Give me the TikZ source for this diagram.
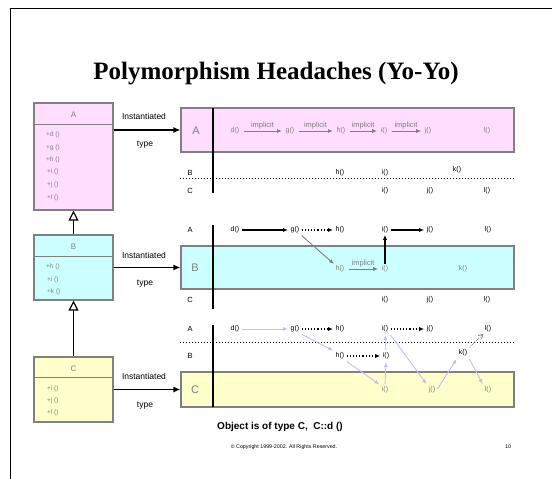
\documentclass[tikz,border=0pt]{standalone}
\usepackage{fontspec}
\setmainfont{Liberation Serif}
\setsansfont{Liberation Sans}
\usetikzlibrary{arrows.meta}
\definecolor{pinkf}{RGB}{255,221,255}
\definecolor{cyanf}{RGB}{204,255,255}
\definecolor{yellf}{RGB}{255,255,204}
\definecolor{boxline}{RGB}{128,128,128}
\definecolor{txtgray}{RGB}{128,128,128}
\definecolor{lav}{RGB}{190,190,255}
\begin{document}
\begin{tikzpicture}[x=1pt,y=-1pt,
  every node/.style={font=\sffamily},
  clsbox/.style={draw=boxline,line width=1.2pt,rectangle,inner sep=0pt,minimum width=79pt},
  panelbox/.style={draw=boxline,line width=1.2pt,rectangle,inner sep=0pt,minimum width=333pt},
  meth/.style={text=txtgray,font=\sffamily\fontsize{6.5}{7}\selectfont,anchor=west,inner sep=0pt},
  hdr/.style={text=txtgray,font=\sffamily\fontsize{8}{9}\selectfont,inner sep=0pt},
  lbl/.style={font=\sffamily\fontsize{8.5}{9}\selectfont,inner sep=0pt},
  rowlbl/.style={font=\sffamily\fontsize{7.5}{8}\selectfont,inner sep=0pt},
  inlbl/.style={text=txtgray,font=\sffamily\fontsize{11}{12}\selectfont,inner sep=0pt},
  itm/.style={font=\sffamily\fontsize{7}{8}\selectfont,inner sep=1.5pt},
  gitm/.style={itm,text=txtgray},
  inst/.style={line width=1.3pt,-{Latex[length=7pt,width=6pt]}},
  inherit/.style={line width=1.2pt,-{Triangle[open,length=10pt,width=10pt,fill=white]}},
  sol/.style={line width=1.1pt,-{Latex[length=5pt,width=4pt]},shorten >=1pt,shorten <=1pt},
  dots/.style={line width=1.1pt,dotted,-{Latex[length=5pt,width=4pt]},shorten >=1pt,shorten <=1pt},
  impl/.style={draw=txtgray,line width=0.9pt,-{Latex[length=5pt,width=4pt]},shorten >=2pt,shorten <=3pt},
  implbl/.style={text=txtgray,font=\sffamily\fontsize{7.5}{8}\selectfont,inner sep=1pt,above},
  lavarr/.style={draw=lav,line width=0.9pt,-{Latex[length=5pt,width=4pt]},shorten >=1pt,shorten <=1pt},
  sep/.style={line width=1pt,dotted},
  vline/.style={line width=1.2pt}
]
\useasboundingbox (0,0) rectangle (552,479);
% frame
\coordinate (fbl) at (10.5,479);
\coordinate (ftl) at (10.5,8.5);
\coordinate (ftr) at (552,8.5);
\draw[line width=1.5pt] (fbl) -- (ftl) -- (ftr);
% title
\node[font=\rmfamily\bfseries\fontsize{25}{28}\selectfont,inner sep=0pt] (title) at (276,74) {Polymorphism Headaches (Yo-Yo)};

% class boxes
\node[clsbox,fill=pinkf,minimum height=107pt] (Abox) at (73.5,156.5) {};
\node[clsbox,fill=cyanf,minimum height=65pt] (Bbox) at (73.5,267.5) {};
\node[clsbox,fill=yellf,minimum height=65pt] (Cbox) at (73.5,389.5) {};
\draw[draw=boxline,line width=1.2pt] ([yshift=-22pt]Abox.north west) -- ([yshift=-22pt]Abox.north east);
\draw[draw=boxline,line width=1.2pt] ([yshift=-22pt]Bbox.north west) -- ([yshift=-22pt]Bbox.north east);
\draw[draw=boxline,line width=1.2pt] ([yshift=-21pt]Cbox.north west) -- ([yshift=-21pt]Cbox.north east);
\node[hdr] (Ah) at (73.5,115) {A};
\node[hdr] (Bh) at (73.5,247) {B};
\node[hdr] (Ch) at (73.5,369) {C};
\node[meth] (Am1) at (46,135) {+d ()};
\node[meth] (Am2) at (46,148) {+g ()};
\node[meth] (Am3) at (46,160) {+h ()};
\node[meth] (Am4) at (47,172) {+i ()};
\node[meth] (Am5) at (47,185) {+j ()};
\node[meth] (Am6) at (47,198) {+l ()};
\node[meth] (Bm1) at (46,267) {+h ()};
\node[meth] (Bm2) at (47,280) {+i ()};
\node[meth] (Bm3) at (47,292) {+k ()};
\node[meth] (Cm1) at (47,389) {+i ()};
\node[meth] (Cm2) at (47,401) {+j ()};
\node[meth] (Cm3) at (47,413) {+l ()};
\draw[inherit] (Bbox.north) -- (Abox.south);
\draw[inherit] (Cbox.north) -- (Bbox.south);

% panel boxes
\node[panelbox,fill=pinkf,minimum height=44pt] (P1) at (347.5,130) {};
\node[panelbox,fill=cyanf,minimum height=43pt] (P2) at (347.5,267.5) {};
\node[panelbox,fill=yellf,minimum height=35pt] (P3) at (347.5,389.5) {};
\node[inlbl] (P1l) at (196,131) {A};
\node[inlbl] (P2l) at (195,268) {B};
\node[inlbl] (P3l) at (195,390) {C};

% instantiation arrows
\draw[inst] (Abox.east |- P1.west) -- (P1.west);
\draw[inst] (Bbox.east |- P2.west) -- (P2.west);
\draw[inst] (Cbox.east |- P3.west) -- (P3.west);
\node[lbl] (i1) at (144,116) {Instantiated};
\node[lbl] (t1) at (145,145) {type};
\node[lbl] (i2) at (144,255) {Instantiated};
\node[lbl] (t2) at (145,284) {type};
\node[lbl] (i3) at (144,376) {Instantiated};
\node[lbl] (t3) at (145,406) {type};

% vertical lines and separators
\coordinate (v1t) at (213,108); \coordinate (v1b) at (213,193);
\coordinate (v2t) at (213,225); \coordinate (v2b) at (213,309);
\coordinate (v3t) at (213,325); \coordinate (v3b) at (213,407);
\draw[vline] (v1t) -- (v1b);
\draw[vline] (v2t) -- (v2b);
\draw[vline] (v3t) -- (v3b);
\coordinate (s1l) at (180,178); \coordinate (s1r) at (514,178);
\coordinate (s3l) at (180,342); \coordinate (s3r) at (514,342);
\draw[sep] (s1l) -- (s1r);
\draw[sep] (s3l) -- (s3r);

% panel 1
\node[rowlbl] (r1B) at (190,173) {B};
\node[rowlbl] (r1C) at (190,191) {C};
\node[gitm] (p1Ad) at (235,131) {d()};
\node[gitm] (p1Ag) at (290,131) {g()};
\node[gitm] (p1Ah) at (341,131) {h()};
\node[gitm] (p1Ai) at (384,131) {i()};
\node[gitm] (p1Aj) at (428,131) {j()};
\node[gitm] (p1Al) at (487,131) {l()};
\draw[impl] (p1Ad) -- node[implbl] {implicit} (p1Ag);
\draw[impl] (p1Ag) -- node[implbl] {implicit} (p1Ah);
\draw[impl] (p1Ah) -- node[implbl] {implicit} (p1Ai);
\draw[impl] (p1Ai) -- node[implbl] {implicit} (p1Aj);
\node[itm] (p1Bh) at (340,173) {h()};
\node[itm] (p1Bi) at (385,173) {i()};
\node[itm] (p1Bk) at (457,170) {k()};
\node[itm] (p1Ci) at (385,191) {i()};
\node[itm] (p1Cj) at (430,191) {j()};
\node[itm] (p1Cl) at (487,191) {l()};

% panel 2
\node[rowlbl] (r2A) at (190,230) {A};
\node[rowlbl] (r2C) at (190,300) {C};
\node[itm] (p2Ad) at (235,230) {d()};
\node[itm] (p2Ag) at (295,230) {g()};
\node[itm] (p2Ah) at (340,230) {h()};
\node[itm] (p2Ai) at (385,230) {i()};
\node[itm] (p2Aj) at (430,230) {j()};
\node[itm] (p2Al) at (488,230) {l()};
\node[gitm] (p2Bh) at (340,269) {h()};
\node[gitm] (p2Bi) at (385,269) {i()};
\node[gitm] (p2Bk) at (463,269) {k()};
\node[itm] (p2Ci) at (385,300) {i()};
\node[itm] (p2Cj) at (430,300) {j()};
\node[itm] (p2Cl) at (487,300) {l()};
\draw[sol] (p2Ad) -- (p2Ag);
\draw[dots] (p2Ag) -- (p2Ah);
\draw[sol] (p2Ai) -- (p2Aj);
\draw[draw=txtgray,line width=0.9pt,-{Latex[length=5pt,width=4pt]},shorten <=1pt] (p2Ag.south east) -- (p2Bh.north west);
\draw[impl] (p2Bh) -- node[implbl] {implicit} (p2Bi);
\draw[line width=1.6pt,-{Latex[length=5pt,width=4.5pt]}] (p2Bi.north) -- (p2Ai.south);

% panel 3
\node[rowlbl] (r3A) at (190,329) {A};
\node[rowlbl] (r3B) at (190,356) {B};
\node[itm] (p3Ad) at (235,329) {d()};
\node[itm] (p3Ag) at (295,329) {g()};
\node[itm] (p3Ah) at (340,329) {h()};
\node[itm] (p3Ai) at (385,329) {i()};
\node[itm] (p3Aj) at (430,329) {j()};
\node[itm] (p3Al) at (488,329) {l()};
\node[itm] (p3Bh) at (340,356) {h()};
\node[itm] (p3Bi) at (386,356) {i()};
\node[itm] (p3Bk) at (463,353) {k()};
\node[gitm] (p3Ci) at (385,390) {i()};
\node[gitm] (p3Cj) at (432,390) {j()};
\node[gitm] (p3Cl) at (488,390) {l()};
\draw[lavarr] (p3Ad) -- (p3Ag);
\draw[dots] (p3Ag) -- (p3Ah);
\draw[dots] (p3Bh) -- (p3Bi);
\draw[dots] (p3Ai) -- (p3Aj);
\draw[lavarr] (p3Ag.south east) -- (p3Bh.north west);
\draw[lavarr] (p3Bh.south east) -- (p3Ci.north west);
\draw[lavarr] (p3Ci.north) -- (p3Bi.south);
\draw[lavarr] (p3Bi.north) -- (p3Ai.south);
\draw[lavarr] (p3Ai.south east) -- (p3Cj.north west);
\draw[lavarr] (p3Cj.east) -- (p3Bk.south west);
\draw[lavarr] (p3Bk.south east) -- (p3Cl.north west);
\draw[draw=txtgray,line width=0.8pt,densely dotted,-{Straight Barb[length=4pt,width=5pt]},shorten <=1pt] (p3Bk.north east) -- (p3Al.south west);

% footer
\node[font=\sffamily\bfseries\fontsize{10}{12}\selectfont,inner sep=0pt] (obj) at (280,427) {Object is of type C,\ \ C::d ()};
\node[font=\sffamily\fontsize{5.3}{6}\selectfont,inner sep=0pt] (copy) at (284,447) {© Copyright 1999-2002. All Rights Reserved.};
\node[font=\sffamily\fontsize{5.3}{6}\selectfont,inner sep=0pt] (pg) at (508,447) {10};
\end{tikzpicture}
\end{document}
